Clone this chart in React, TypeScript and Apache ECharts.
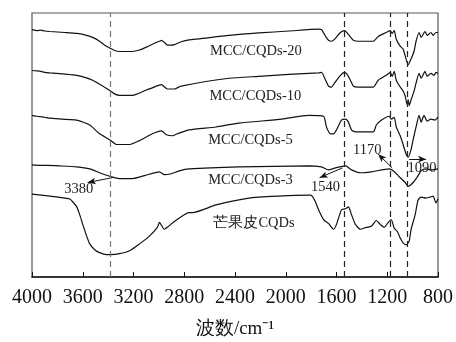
import React, { useEffect, useRef } from "react";
import * as echarts from "echarts";

// wavenumber (cm^-1), relative transmittance (offset stacked)
const mcc20: [number, number][] = [[4000,254],[3960,253],[3930,253.5],[3900,252.5],[3859,252],[3800,251.5],[3741,251],[3647,250],[3584,248.5],[3522,246],[3467,242],[3427,238],[3380,234.5],[3349,232.5],[3310,231.5],[3208,231.5],[3153,233],[3098,236],[3035,240],[2996,242],[2980,243],[2957,241],[2933,238],[2902,238],[2878,238.5],[2824,241.5],[2761,243.5],[2682,244.5],[2447,248],[2212,250.5],[1976,252.5],[1741,254.5],[1718,254],[1686,247],[1663,243],[1639,242],[1616,244],[1569,251],[1537,253],[1506,249],[1467,243],[1427,242],[1310,242],[1271,247],[1208,251],[1176,253],[1161,250],[1145,253],[1129,244],[1098,237],[1075,234],[1059,227],[1035,218],[1012,224],[988,232],[973,242],[949,251],[933,246],[902,252],[886,248],[855,251],[839,248],[816,251],[800,251]];
const mcc10: [number, number][] = [[4000,212],[3960,211.5],[3930,211],[3900,210],[3859,209.5],[3760,208.5],[3647,207],[3522,202],[3380,191],[3349,188],[3310,186.5],[3208,186.5],[3098,192],[2996,197],[2980,197.5],[2933,193],[2878,193],[2824,196],[2447,204],[2212,206],[1976,208],[1741,209.5],[1718,210],[1686,202],[1663,196],[1639,195],[1616,199],[1569,207],[1537,210],[1506,206],[1467,196],[1427,195],[1310,195],[1271,202],[1208,207],[1176,210],[1161,206],[1145,211],[1129,202],[1098,195],[1075,191],[1059,186],[1043,177],[1035,182],[1027,176],[1012,182],[988,191],[973,199],[949,209],[933,204],[902,211],[886,206],[855,209],[831,207],[816,210],[800,209]];
const mcc5: [number, number][] = [[4000,166],[3960,165],[3930,164.5],[3900,164],[3859,163],[3647,161],[3545,156],[3467,147],[3388,141],[3333,136],[3231,136],[3153,140],[3051,147],[2980,150],[2941,146],[2894,145],[2855,147],[2761,151],[2549,154],[2369,158],[2031,162],[1820,166],[1702,165],[1679,154],[1647,147],[1624,147],[1600,151],[1561,161],[1529,162],[1506,159],[1482,151],[1451,149],[1310,149],[1286,156],[1247,161],[1184,165],[1169,162],[1145,164],[1129,154],[1098,145],[1075,136],[1051,126],[1035,123],[1012,131],[996,141],[973,154],[949,166],[933,159],[910,166],[886,160],[855,162],[824,161],[800,164]];
const mcc3: [number, number][] = [[4000,115],[3940,114.5],[3880,114.5],[3780,114],[3647,113],[3545,111],[3467,107],[3380,103],[3310,101],[3208,101],[3114,104],[2996,108],[2957,105],[2902,106],[2839,109],[2761,111],[2369,113],[1820,114],[1718,113],[1663,110],[1608,112],[1529,114],[1482,110],[1412,107],[1326,108],[1184,111],[1153,109],[1114,104],[1059,97],[1035,93],[996,97],[957,104],[933,109],[894,111],[855,110],[800,111]];
const mangoCQDs: [number, number][] = [[4000,85],[3859,83],[3741,81],[3702,80],[3678,77],[3647,72],[3624,64],[3600,54],[3569,42],[3545,34],[3506,28],[3467,25],[3412,23],[3380,23],[3310,24],[3231,27],[3153,34],[3075,42],[3012,51],[2996,56],[2957,49],[2933,51],[2878,57],[2800,64],[2761,66],[2737,66],[2549,74],[2290,81],[2055,83],[1820,84],[1804,84],[1773,79],[1741,69],[1702,59],[1663,55],[1624,49],[1600,54],[1561,69],[1529,70],[1506,72],[1482,64],[1451,54],[1412,49],[1365,51],[1326,52],[1286,58],[1255,54],[1224,51],[1192,56],[1169,59],[1145,50],[1122,47],[1098,40],[1075,35],[1051,33],[1027,37],[1012,49],[980,64],[957,79],[933,82],[894,81],[863,82],[839,83],[816,76],[800,80]];

const seriesNames = ["MCC/CQDs-20", "MCC/CQDs-10", "MCC/CQDs-5", "MCC/CQDs-3", "芒果皮CQDs"];
const seriesData = [mcc20, mcc10, mcc5, mcc3, mangoCQDs];
// label centre positions (wavenumber, value)
const labelAnchors: [number, number][] = [[2235, 233], [2240, 187], [2278, 142], [2278, 101], [2250, 56]];

const xTicks = [4000, 3600, 3200, 2800, 2400, 2000, 1600, 1200, 800];
const dashedLines = [3380, 1540, 1174, 1040];
const dashedColors = ["#777", "#222", "#222", "#222"];

const peakLabels = ["3380", "1540", "1170", "1090"];
const peakLabelPos: [number, number][] = [[3631, 91], [1686, 93], [1357, 131], [926, 113]];
const peakArrows: [[number, number], [number, number]][] = [
  [[3365, 102], [3561, 97]],
  [[1553, 112], [1733, 102]],
  [[1161, 112], [1271, 126]],
  [[1027, 121], [894, 121]],
];

const SERIF = "Liberation Serif";

export default function App() {
  const ref = useRef<HTMLDivElement>(null);
  useEffect(() => {
    if (!ref.current) return;
    const chart = echarts.init(ref.current, undefined, { renderer: "svg" });
    const series: any[] = seriesData.map((d, i) => ({
      name: seriesNames[i],
      type: "line",
      data: d,
      symbol: "none",
      smooth: 0.2,
      lineStyle: { color: "#111", width: 1.2 },
      silent: true,
      markPoint: {
        symbol: "circle",
        symbolSize: 0,
        silent: true,
        data: [
          {
            coord: labelAnchors[i],
            label: {
              show: true,
              position: "inside",
              formatter: seriesNames[i],
              fontFamily: SERIF,
              fontSize: 14.5,
              color: "#222",
            },
          },
        ],
      },
    }));
    series.push({
      name: "annotations",
      type: "line",
      data: [],
      symbol: "none",
      markLine: {
        silent: true,
        symbol: ["none", "none"],
        label: { show: false },
        data: dashedLines.map((v, i) => ({
          xAxis: v,
          lineStyle: { color: dashedColors[i], width: 1.2, type: [6, 4] },
        })).concat(
          peakArrows.map((a) => [
            { coord: a[0], symbol: "none", lineStyle: { color: "#111", width: 1, type: "solid" } },
            { coord: a[1], symbol: "arrow", symbolSize: [5, 8] },
          ]) as any
        ),
      },
      markPoint: {
        symbol: "circle",
        symbolSize: 0,
        silent: true,
        data: peakLabels.map((t, i) => ({
          coord: peakLabelPos[i],
          label: {
            show: true,
            position: "inside",
            formatter: t,
            fontFamily: SERIF,
            fontSize: 14.5,
            color: "#222",
          },
        })),
      },
    });
    chart.setOption({
      animation: false,
      grid: {
        left: 32,
        right: 16,
        top: 13,
        bottom: 58,
        show: true,
        borderColor: "#555",
        borderWidth: 1.2,
        backgroundColor: "transparent",
      },
      xAxis: {
        type: "value",
        inverse: true,
        min: 800,
        max: 4000,
        interval: 400,
        name: "波数/cm⁻¹",
        nameLocation: "middle",
        nameGap: 41,
        nameTextStyle: { fontFamily: SERIF, fontSize: 19, color: "#111" },
        axisLine: { show: true, lineStyle: { color: "#111", width: 1.5 } },
        axisTick: { show: true, inside: true, length: 5, lineStyle: { color: "#111", width: 1 } },
        axisLabel: {
          fontFamily: SERIF,
          fontSize: 20,
          color: "#111",
          margin: 9,
          formatter: (v: number) => (xTicks.includes(v) ? String(v) : ""),
        },
        splitLine: { show: false },
      },
      yAxis: {
        type: "value",
        min: 0,
        max: 271,
        show: true,
        axisLine: { show: false },
        axisTick: { show: false },
        axisLabel: { show: false },
        splitLine: { show: false },
      },
      series,
    });
    return () => chart.dispose();
  }, []);
  return (
    <div
      ref={ref}
      style={{ position: "fixed", left: 0, top: 0, width: 456, height: 342 }}
    />
  );
}
